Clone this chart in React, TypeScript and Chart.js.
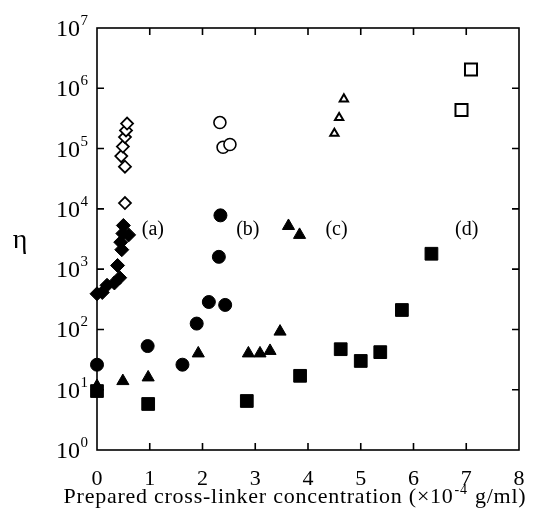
import React, { useEffect, useRef } from "react";
import { Chart, registerables } from "chart.js";

Chart.register(...registerables);

const FONT = '"Liberation Serif", "Times New Roman", serif';

// Axis ticks
const xTickValues = [0, 1, 2, 3, 4, 5, 6, 7, 8];
const yTickExponents = [0, 1, 2, 3, 4, 5, 6, 7];
const xTitle = "Prepared cross-linker concentration (×10";
const xTitleExp = "-4";
const xTitleTail = " g/ml)";
const yTitle = "η";

// (a) diamonds
const aFilledX = [0, 0.1, 0.19, 0.33, 0.43, 0.39, 0.47, 0.45, 0.6, 0.49, 0.5];
const aFilledY = [390, 410, 540, 590, 720, 1150, 2100, 2800, 3700, 3900, 5300];
const aOpenX = [0.53, 0.53, 0.46, 0.49, 0.53, 0.55, 0.57];
const aOpenY = [12500, 50000, 75000, 108000, 155000, 200000, 260000];

// (b) circles
const bFilledX = [0, 0.96, 1.62, 1.89, 2.12, 2.43, 2.31, 2.34];
const bFilledY = [26, 53, 26, 125, 285, 255, 1600, 7800];
const bOpenX = [2.33, 2.39, 2.52];
const bOpenY = [270000, 105000, 117000];

// (c) triangles
const cFilledX = [0, 0.49, 0.97, 1.92, 2.87, 3.09, 3.28, 3.47, 3.63, 3.84];
const cFilledY = [11.5, 13.9, 16, 40, 40, 40, 44, 92, 5200, 3700];
const cOpenX = [4.5, 4.59, 4.68];
const cOpenY = [178000, 325000, 660000];

// (d) squares
const dFilledX = [0, 0.97, 2.84, 3.85, 4.62, 5.0, 5.37, 5.78, 6.34];
const dFilledY = [9.5, 5.8, 6.5, 17, 47, 30, 42, 210, 1800];
const dOpenX = [6.91, 7.09];
const dOpenY = [436000, 2050000];

// Region labels
const regionLabels = ["(a)", "(b)", "(c)", "(d)"];
const regionLabelX = [1.06, 2.86, 4.54, 7.01];
const regionLabelY = [4470, 4470, 4470, 4470];

const pts = (xs: number[], ys: number[]) => xs.map((x, i) => ({ x, y: ys[i] }));

const framePlugin = {
  id: "frame",
  beforeDatasetsDraw(chart: any) {
    const { ctx, chartArea, scales } = chart;
    const { left, right, top, bottom } = chartArea;
    const x = scales.x;
    const y = scales.y;
    ctx.save();
    ctx.strokeStyle = "#000";
    ctx.lineWidth = 1.6;
    ctx.strokeRect(left, top, right - left, bottom - top);
    const tl = 7;
    ctx.beginPath();
    for (const v of xTickValues.slice(1, -1)) {
      const px = x.getPixelForValue(v);
      ctx.moveTo(px, bottom);
      ctx.lineTo(px, bottom - tl);
      ctx.moveTo(px, top);
      ctx.lineTo(px, top + tl);
    }
    for (const e of yTickExponents.slice(1, -1)) {
      const py = y.getPixelForValue(Math.pow(10, e));
      ctx.moveTo(left, py);
      ctx.lineTo(left + tl, py);
      ctx.moveTo(right, py);
      ctx.lineTo(right - tl, py);
    }
    ctx.stroke();
    ctx.fillStyle = "#000";

    // y tick labels: 10 with superscript exponent
    for (const e of yTickExponents) {
      const py = y.getPixelForValue(Math.pow(10, e));
      const exp = String(e);
      ctx.font = `15px ${FONT}`;
      const ew = ctx.measureText(exp).width;
      const rx = left - 9;
      ctx.textBaseline = "alphabetic";
      ctx.textAlign = "left";
      ctx.fillText(exp, rx - ew, py - 3);
      ctx.font = `24px ${FONT}`;
      ctx.textAlign = "right";
      ctx.fillText("10", rx - ew - 0.5, py + 8);
    }

    // y title
    ctx.textAlign = "center";
    ctx.textBaseline = "middle";
    ctx.font = `28px ${FONT}`;
    ctx.fillText(yTitle, left - 77, (top + bottom) / 2 + 2);

    // x title with superscript
    ctx.textBaseline = "alphabetic";
    ctx.textAlign = "left";
    const big = `22px ${FONT}`;
    const small = `14px ${FONT}`;
    (ctx as any).letterSpacing = "0.75px";
    ctx.font = big;
    const w1 = ctx.measureText(xTitle).width;
    const w3 = ctx.measureText(xTitleTail).width;
    ctx.font = small;
    const w2 = ctx.measureText(xTitleExp).width + 2;
    const total = w1 + w2 + w3;
    const cx = (left + right) / 2 - 13;
    const by = chart.height - 5;
    let sx = cx - total / 2;
    ctx.font = big;
    ctx.fillText(xTitle, sx, by);
    sx += w1;
    ctx.font = small;
    ctx.fillText(xTitleExp, sx + 1, by - 9);
    sx += w2;
    ctx.font = big;
    ctx.fillText(xTitleTail, sx, by);
    (ctx as any).letterSpacing = "0px";

    // region labels
    ctx.textAlign = "center";
    ctx.textBaseline = "middle";
    ctx.font = `20px ${FONT}`;
    regionLabels.forEach((t, i) => {
      ctx.fillText(t, x.getPixelForValue(regionLabelX[i]), y.getPixelForValue(regionLabelY[i]));
    });
    ctx.restore();
  },
};

export default function App() {
  const ref = useRef<HTMLCanvasElement | null>(null);
  useEffect(() => {
    if (!ref.current) return;
    const common = { showLine: false, clip: false as any, borderColor: "#000" };
    const chart = new Chart(ref.current, {
      type: "scatter",
      data: {
        datasets: [
          { ...common, data: pts(aFilledX, aFilledY), pointStyle: "rectRot", pointRadius: 7, backgroundColor: "#000", borderWidth: 1 },
          { ...common, data: pts(aOpenX, aOpenY), pointStyle: "rectRot", pointRadius: 6, backgroundColor: "#fff", borderWidth: 1.8 },
          { ...common, data: pts(bFilledX, bFilledY), pointStyle: "circle", pointRadius: 6.5, backgroundColor: "#000", borderWidth: 1 },
          { ...common, data: pts(bOpenX, bOpenY), pointStyle: "circle", pointRadius: 6, backgroundColor: "#fff", borderWidth: 1.6 },
          { ...common, data: pts(cFilledX, cFilledY), pointStyle: "triangle", pointRadius: 7, backgroundColor: "#000", borderWidth: 1 },
          { ...common, data: pts(cOpenX, cOpenY), pointStyle: "triangle", pointRadius: 4.8, backgroundColor: "#fff", borderWidth: 2 },
          { ...common, data: pts(dFilledX, dFilledY), pointStyle: "rect", pointRadius: 9, backgroundColor: "#000", borderWidth: 1 },
          { ...common, data: pts(dOpenX, dOpenY), pointStyle: "rect", pointRadius: 8.5, backgroundColor: "#fff", borderWidth: 2 },
        ],
      },
      options: {
        animation: false,
        responsive: true,
        maintainAspectRatio: false,
        layout: { padding: { top: 20, right: 14, left: 0, bottom: 0 } },
        plugins: { legend: { display: false }, tooltip: { enabled: false } },
        scales: {
          x: {
            type: "linear",
            min: 0,
            max: 8,
            border: { display: false },
            grid: { display: false },
            ticks: {
              stepSize: 1,
              color: "#000",
              padding: 8,
              maxRotation: 0,
              font: { family: FONT, size: 22 },
            },
            afterFit(s: any) {
              s.height = 58;
            },
          },
          y: {
            type: "logarithmic",
            min: 1,
            max: 1e7,
            border: { display: false },
            grid: { display: false },
            ticks: { display: false },
            afterBuildTicks(s: any) {
              s.ticks = yTickExponents.map((e) => ({ value: Math.pow(10, e) }));
            },
            afterFit(s: any) {
              s.width = 89;
            },
          },
        },
      },
      plugins: [framePlugin],
    } as any);
    return () => chart.destroy();
  }, []);
  return (
    <div style={{ position: "relative", width: 525, height: 500 }}>
      <canvas ref={ref} />
    </div>
  );
}
